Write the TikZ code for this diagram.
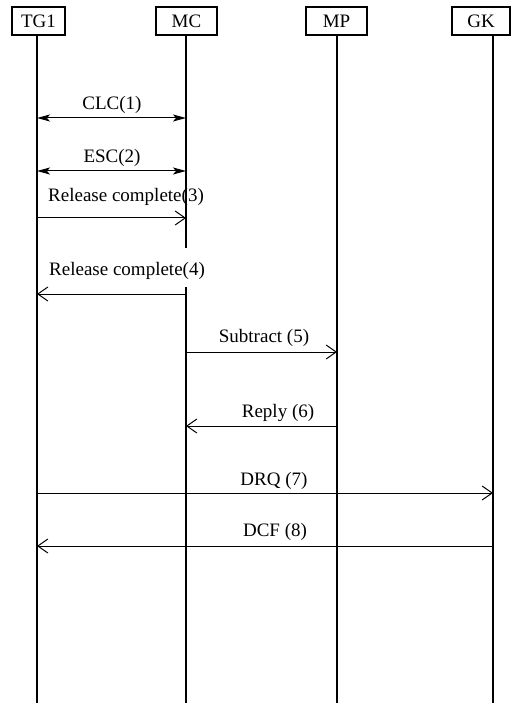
\documentclass[tikz,border=0pt]{standalone}
\usepackage{fontspec}
\setmainfont{Liberation Serif}
\usetikzlibrary{arrows.meta}
\begin{document}
\begin{tikzpicture}[x=1pt,y=-1pt,
  ent/.style={draw,line width=1.8pt,inner sep=0pt,minimum height=28pt,font=\fontsize{19}{22}\selectfont},
  life/.style={line width=2pt},
  msg/.style={line width=1pt},
  openarr/.style={msg,-{Straight Barb[length=10pt,width=14pt,line width=1pt]}},
  botharr/.style={msg,{Stealth[length=13pt,width=7pt,inset=3pt]}-{Stealth[length=13pt,width=7pt,inset=3pt]}},
  lab/.style={font=\fontsize{19}{22}\selectfont,inner sep=0pt}]
\useasboundingbox (0,0) rectangle (516,703);
% entity boxes
\node[ent,minimum width=53pt] (tg) at (38.5,21) {TG1};
\node[ent,minimum width=61pt] (mc) at (186.5,21) {MC};
\node[ent,minimum width=61pt] (mp) at (336.5,21) {MP};
\node[ent,minimum width=58pt] (gk) at (481,21) {GK};
% lifeline coordinates
\coordinate (tgT) at (37,35);  \coordinate (tgB) at (37,703);
\coordinate (mcT) at (186,35); \coordinate (mcG1) at (186,248);
\coordinate (mcG2) at (186,287); \coordinate (mcB) at (186,703);
\coordinate (mpT) at (337,35); \coordinate (mpB) at (337,703);
\coordinate (gkT) at (493,35); \coordinate (gkB) at (493,703);
\draw[life] (tgT) -- (tgB);
\draw[life] (mcT) -- (mcG1);
\draw[life] (mcG2) -- (mcB);
\draw[life] (mpT) -- (mpB);
\draw[life] (gkT) -- (gkB);
% message points
\coordinate (a1) at (37,118);  \coordinate (b1) at (186,118);
\coordinate (a2) at (37,171);  \coordinate (b2) at (186,171);
\coordinate (a3) at (37,218);  \coordinate (b3) at (186,218);
\coordinate (a4) at (186,294); \coordinate (b4) at (37,294);
\coordinate (a5) at (186,352); \coordinate (b5) at (337,352);
\coordinate (a6) at (337,426); \coordinate (b6) at (186,426);
\coordinate (a7) at (37,493);  \coordinate (b7) at (493,493);
\coordinate (a8) at (493,546); \coordinate (b8) at (37,546);
% messages
\draw[botharr] (a1) -- (b1);
\draw[botharr] (a2) -- (b2);
\draw[openarr] (a3) -- (b3);
\draw[openarr] (a4) -- (b4);
\draw[openarr] (a5) -- (b5);
\draw[openarr] (a6) -- (b6);
\draw[openarr] (a7) -- (b7);
\draw[openarr] (a8) -- (b8);
% labels
\node[lab] (l1) at (112,105) {CLC(1)};
\node[lab] (l2) at (112,158) {ESC(2)};
\node[lab] (l3) at (126,197) {Release complete(3)};
\node[lab] (l4) at (127,271) {Release complete(4)};
\node[lab] (l5) at (264,338) {Subtract (5)};
\node[lab] (l6) at (278,413) {Reply (6)};
\node[lab] (l7) at (274,481) {DRQ (7)};
\node[lab] (l8) at (275,532) {DCF (8)};
\end{tikzpicture}
\end{document}
